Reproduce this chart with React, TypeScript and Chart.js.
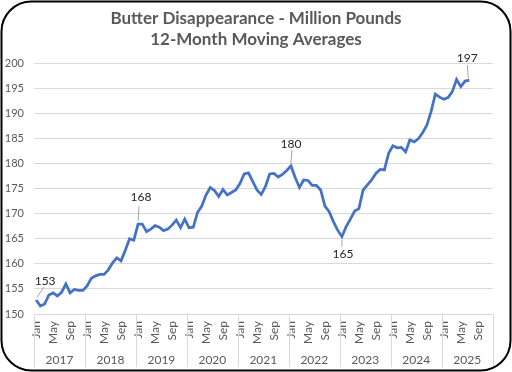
import React, { useEffect, useRef } from "react";
import { Chart, registerables } from "chart.js";

Chart.register(...registerables);

const monthNames = ["Jan", "Feb", "Mar", "Apr", "May", "Jun", "Jul", "Aug", "Sep", "Oct", "Nov", "Dec"];
const years = ["2017", "2018", "2019", "2020", "2021", "2022", "2023", "2024", "2025"];
const yTicks = [150, 155, 160, 165, 170, 175, 180, 185, 190, 195, 200];

const values2017 = [152.8, 151.6, 152.0, 153.8, 154.2, 153.6, 154.3, 156.0, 154.2, 154.9, 154.7, 154.7];
const values2018 = [155.6, 157.1, 157.6, 157.9, 157.9, 158.8, 160.2, 161.2, 160.6, 162.7, 165.0, 164.7];
const values2019 = [167.9, 167.9, 166.4, 166.9, 167.6, 167.3, 166.6, 166.9, 167.7, 168.7, 167.2, 168.9];
const values2020 = [167.2, 167.3, 170.2, 171.5, 173.7, 175.2, 174.6, 173.4, 174.8, 173.7, 174.2, 174.7];
const values2021 = [176.0, 177.9, 178.1, 176.4, 174.7, 173.8, 175.4, 177.9, 178.0, 177.3, 177.8, 178.6];
const values2022 = [179.5, 177.2, 175.2, 176.7, 176.6, 175.6, 175.6, 174.7, 171.5, 170.4, 168.4, 166.7];
const values2023 = [165.4, 167.4, 168.9, 170.5, 171.0, 174.7, 175.7, 176.7, 178.0, 178.8, 178.7, 182.0];
const values2024 = [183.5, 183.1, 183.2, 182.3, 184.7, 184.3, 184.9, 186.1, 187.6, 190.3, 193.8, 193.2];
const values2025 = [192.8, 193.1, 194.3, 196.7, 195.3, 196.4, 196.6];

const seriesValues = [
  ...values2017, ...values2018, ...values2019, ...values2020, ...values2021,
  ...values2022, ...values2023, ...values2024, ...values2025,
];

const categories = years.flatMap((y) => monthNames.map((m) => `${m} ${y}`));

// data labels: index into series, text
const labelIndices = [0, 24, 60, 72, 102];
const labelTexts = ["153", "168", "180", "165", "197"];
// label placement styles (offsets from the point): text dx, dy, leader start/end offsets
const labelStyles = [
  { tx: 9, ty: -19, l1x: 1, l1y: -3, l2x: 8, l2y: -13 },
  { tx: 3, ty: -27, l1x: 0, l1y: -3, l2x: 1, l2y: -18 },
  { tx: 0, ty: -22, l1x: 0, l1y: -3, l2x: 1, l2y: -16 },
  { tx: 1, ty: 17, l1x: 0, l1y: 3, l2x: 0, l2y: 10 },
  { tx: -2, ty: -22, l1x: -1, l1y: -2, l2x: -2, l2y: -15 },
];

const FONT = "Lato, 'Open Sans', sans-serif";
const GREY_TEXT = "#595959";

const decorPlugin = {
  id: "decor",
  beforeDraw(chart: any) {
    const { ctx, width, height } = chart;
    ctx.save();
    ctx.fillStyle = "#ffffff";
    ctx.fillRect(0, 0, width, height);
    ctx.restore();
  },
  afterDraw(chart: any) {
    const { ctx, width, height, chartArea } = chart;
    const xs = chart.scales.x;
    const meta = chart.getDatasetMeta(0);
    ctx.save();

    // title
    ctx.fillStyle = GREY_TEXT;
    ctx.font = `bold 17px ${FONT}`;
    ctx.textAlign = "center";
    ctx.textBaseline = "middle";
    ctx.fillText("Butter Disappearance - Million Pounds", width / 2, 19);
    ctx.fillText("12-Month Moving Averages", width / 2, 40);

    // year separators and labels
    const step = xs.getPixelForValue(1) - xs.getPixelForValue(0);
    ctx.strokeStyle = "#d9d9d9";
    ctx.lineWidth = 1;
    for (let k = 0; k <= years.length; k++) {
      const x = Math.round(xs.getPixelForValue(k * 12) - step / 2) + 0.5;
      ctx.beginPath();
      ctx.moveTo(x, chartArea.bottom);
      ctx.lineTo(x, height - 5);
      ctx.stroke();
    }
    ctx.fillStyle = GREY_TEXT;
    ctx.font = `12px ${FONT}`;
    years.forEach((y, k) => {
      const x = (xs.getPixelForValue(k * 12) + xs.getPixelForValue(k * 12 + 11)) / 2;
      ctx.fillText(y, x, 360);
    });

    // data labels
    ctx.font = `12px ${FONT}`;
    ctx.fillStyle = "#262626";
    labelIndices.forEach((idx, i) => {
      const pt = meta.data[idx];
      if (!pt) return;
      const s = labelStyles[i];
      ctx.strokeStyle = "#a6a6a6";
      ctx.beginPath();
      ctx.moveTo(pt.x + s.l1x, pt.y + s.l1y);
      ctx.lineTo(pt.x + s.l2x, pt.y + s.l2y);
      ctx.stroke();
      ctx.fillText(labelTexts[i], pt.x + s.tx, pt.y + s.ty);
    });

    // border
    ctx.strokeStyle = "#000000";
    ctx.lineWidth = 2;
    ctx.beginPath();
    ctx.roundRect(1.5, 1.5, width - 3, height - 3, 30);
    ctx.stroke();
    ctx.restore();
  },
};

export default function App() {
  const ref = useRef<HTMLCanvasElement | null>(null);
  useEffect(() => {
    document.body.style.margin = "0";
    const chart = new Chart(ref.current as HTMLCanvasElement, {
      type: "line",
      data: {
        labels: categories,
        datasets: [
          {
            data: seriesValues,
            borderColor: "#4472C4",
            borderWidth: 2.75,
            pointRadius: 0,
            tension: 0,
            fill: false,
          },
        ],
      },
      options: {
        animation: false,
        responsive: false,
        maintainAspectRatio: false,
        layout: { padding: { left: 0, right: 12, top: 63, bottom: 0 } },
        plugins: {
          legend: { display: false },
          title: { display: false },
          tooltip: { enabled: false },
        },
        scales: {
          x: {
            type: "category",
            offset: true,
            grid: { display: false, drawTicks: false },
            border: { display: false },
            afterFit: (scale: any) => {
              scale.height = 58;
            },
            ticks: {
              autoSkip: false,
              minRotation: 90,
              maxRotation: 90,
              padding: 7,
              color: GREY_TEXT,
              font: { size: 12, family: FONT },
              callback: (_v: any, idx: number) => (idx % 4 === 0 ? monthNames[idx % 12] : ""),
            },
          },
          y: {
            min: 150,
            max: 200,
            afterFit: (scale: any) => {
              scale.width = 34;
            },
            afterBuildTicks: (scale: any) => {
              scale.ticks = yTicks.map((v) => ({ value: v }));
            },
            grid: { color: "#d9d9d9", drawTicks: false, lineWidth: 1 },
            border: { display: false },
            ticks: {
              padding: 10,
              color: GREY_TEXT,
              font: { size: 11, family: FONT },
            },
          },
        },
      },
      plugins: [decorPlugin],
    });
    return () => chart.destroy();
  }, []);
  return (
    <div style={{ position: "fixed", left: 0, top: 0, width: 512, height: 372 }}>
      <canvas ref={ref} width={512} height={372} style={{ width: 512, height: 372 }} />
    </div>
  );
}
